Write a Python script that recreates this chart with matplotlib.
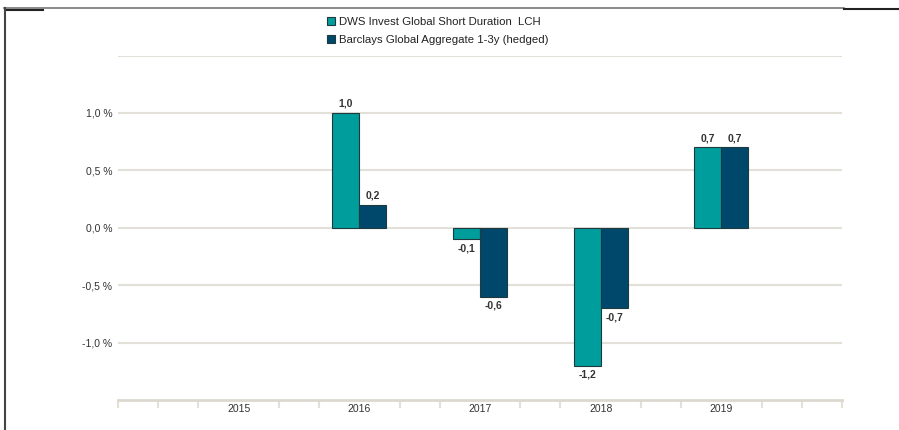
import numpy as np
import matplotlib
matplotlib.use("Agg")
import matplotlib.pyplot as plt
from matplotlib.lines import Line2D

plt.rcParams["font.family"] = ["Liberation Sans", "DejaVu Sans"]

# donnees
annees = ["2015", "2016", "2017", "2018", "2019"]
dws = [np.nan, 1.0, -0.1, -1.2, 0.7]
barclays = [np.nan, 0.2, -0.6, -0.7, 0.7]
noms = ["DWS Invest Global Short Duration  LCH",
        "Barclays Global Aggregate 1-3y (hedged)"]
yticks = [-1.0, -0.5, 0.0, 0.5, 1.0]

c_dws = "#009d9d"
c_bar = "#00486b"
c_grid = "#e3e0d9"
c_txt = "#333333"

fig = plt.figure(figsize=(8.99, 4.30), dpi=100)
ax = fig.add_axes([118 / 899, 1 - 400 / 430, (842 - 118) / 899, (400 - 55.5) / 430])

x = np.arange(len(annees))
w = 0.224
b1 = ax.bar(x - w / 2, dws, w, color=c_dws, edgecolor="#1f3a3e", linewidth=0.8,
            label=noms[0], zorder=3)
b2 = ax.bar(x + w / 2, barclays, w, color=c_bar, edgecolor="#1f3a3e", linewidth=0.8,
            label=noms[1], zorder=3)


def etiquettes(vals):
    return ["" if np.isnan(v) else f"{v:.1f}".replace(".", ",") for v in vals]


for b, vals in ((b1, dws), (b2, barclays)):
    ax.bar_label(b, labels=etiquettes(vals), padding=3, fontsize=7.5,
                 fontweight="bold", color=c_txt)

ax.set_xlim(-1, 5)
ax.set_ylim(-1.5, 1.5)

# grille horizontale
for g in yticks + [1.5]:
    ax.axhline(g, color=c_grid, linewidth=1.5, zorder=1)

ax.set_yticks(yticks)
ax.set_yticklabels([f"{v:.1f} %".replace(".", ",") for v in yticks])
ax.set_xticks(x)
ax.set_xticklabels(annees)

mineurs = [k / 3 for k in range(-3, 16) if k % 3 != 0 or k in (-3, 15)]
ax.set_xticks(mineurs, minor=True)
ax.tick_params(axis="x", which="major", length=0, pad=3, labelsize=7.5, labelcolor=c_txt)
ax.tick_params(axis="x", which="minor", length=6, width=1.5, color=c_grid, direction="out")
ax.tick_params(axis="y", length=0, pad=4, labelsize=7.5, labelcolor=c_txt)

for s in ("top", "right", "left"):
    ax.spines[s].set_visible(False)
ax.spines["bottom"].set_color("#dcd8d0")
ax.spines["bottom"].set_linewidth(2)

# cadre partiel autour du graphique
H, W = 430, 899
fig.add_artist(Line2D([4 / W, 844 / W], [1 - 8 / H, 1 - 8 / H], color="#777777", lw=1.2))
fig.add_artist(Line2D([5 / W, 43 / W], [1 - 10 / H, 1 - 10 / H], color="#222222", lw=1.5))
fig.add_artist(Line2D([844 / W, 899 / W], [1 - 9 / H, 1 - 9 / H], color="#222222", lw=1.5))
fig.add_artist(Line2D([5 / W, 5 / W], [1 - 8 / H, 0], color="#444444", lw=1.5))

leg = fig.legend(handles=[b1, b2], loc="upper left",
                 bbox_to_anchor=(322 / W, 1 - 12 / H), frameon=False,
                 fontsize=8.2, handlelength=0.75, handleheight=0.75,
                 handletextpad=0.35, labelspacing=0.7, borderaxespad=0)
for t in leg.get_texts():
    t.set_color("#222222")

fig.savefig("out.png", dpi=100, facecolor="white")
